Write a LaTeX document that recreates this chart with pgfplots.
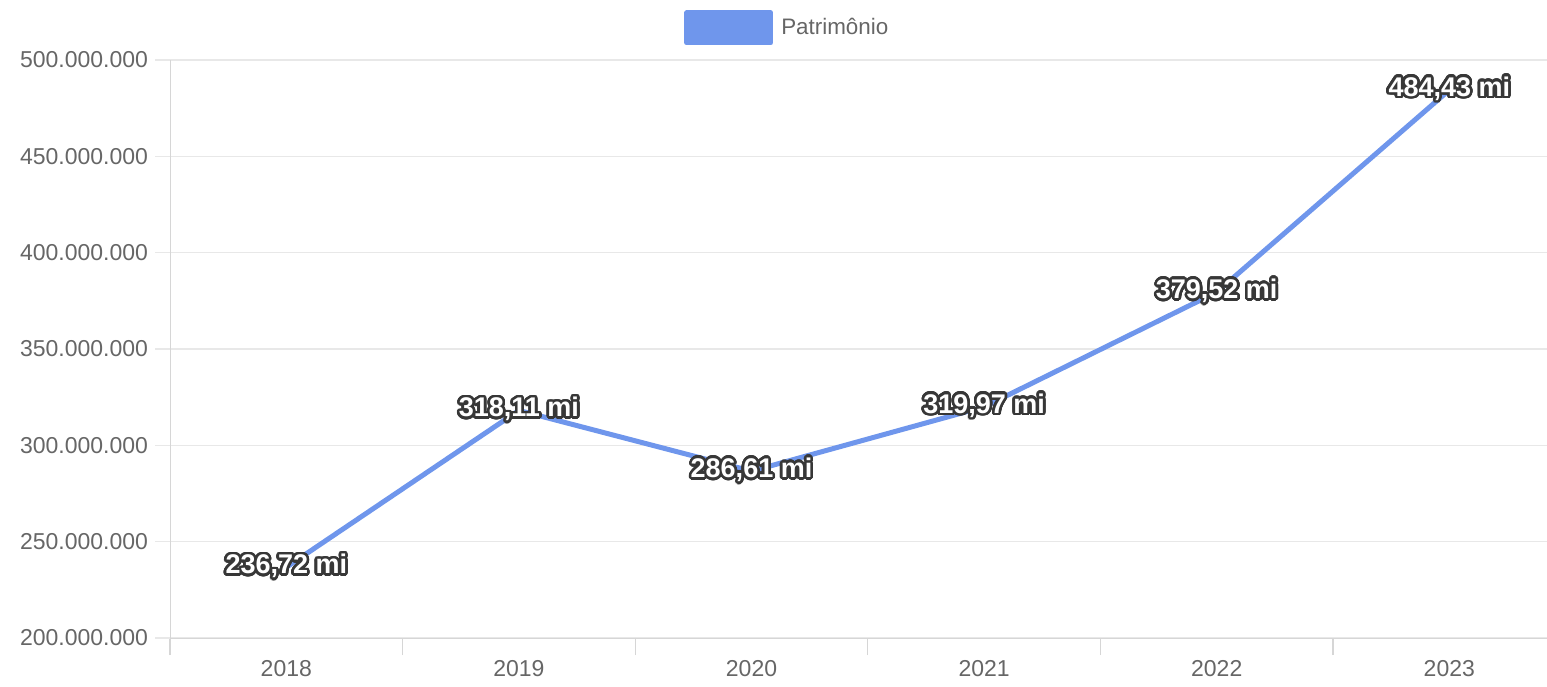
\documentclass[border=0pt]{standalone}
\usepackage{fontspec}
\setmainfont{Liberation Sans}
\usepackage{pgfplots}
\pgfplotsset{compat=1.18}
\usepackage{pgfplotstable}
\usepackage{contour}
\contourlength{1.3pt}
\contournumber{32}
\definecolor{lineblue}{RGB}{111,150,236}
\definecolor{ticktext}{RGB}{102,102,102}
\definecolor{gridc}{RGB}{232,232,232}
\definecolor{axisc}{RGB}{214,214,214}
\definecolor{outl}{RGB}{55,55,55}

\pgfplotstableread{
x y m
0 236720000 236.72
1 318110000 318.11
2 286610000 286.61
3 319970000 319.97
4 379520000 379.52
5 484430000 484.43
}\patr

\begin{document}
\begin{tikzpicture}
\begin{axis}[
  name=ax,
  scale only axis,
  width=688.5pt, height=289pt,
  xmin=-0.5, xmax=5.42,
  ymin=200000000, ymax=500000000,
  ytick={200000000,250000000,300000000,350000000,400000000,450000000,500000000},
  scaled y ticks=false,
  xtick={0,1,2,3,4,5},
  xticklabels={2018,2019,2020,2021,2022,2023},
  minor xtick={-0.5,0.5,1.5,2.5,3.5,4.5},
  axis lines*=left,
  axis line style={axisc,-},
  tick align=outside,
  major tick length=7.5pt,
  minor tick length=8.5pt,
  major x tick style={draw=none},
  minor x tick style={axisc, line width=0.6pt},
  y tick style={gridc, line width=0.6pt},
  ymajorgrids,
  grid style={gridc, line width=0.6pt},
  yticklabel style={/pgf/number format/.cd, fixed, precision=0, 1000 sep={.}, assume math mode=true},
  ticklabel style={font=\fontsize{11.5}{13}\selectfont, text=ticktext},
  xticklabel style={yshift=0pt},
  legend style={at={(0.449,1.0554)}, anchor=center, draw=none, fill=none, inner sep=0pt,
    font=\fontsize{11.2}{13}\selectfont, text=ticktext,
    /tikz/every odd column/.append style={column sep=2pt}},
  legend image code/.code={\fill[lineblue] (0pt,-7.5pt) rectangle (42pt,7.5pt);},
  clip=false,
]
\addplot[draw=none, no markers, forget plot,
  point meta=explicit,
  nodes near coords={\contour{outl}{\pgfmathprintnumber[fixed,fixed zerofill,precision=2,use comma,assume math mode=true]{\pgfplotspointmeta}~mi}},
  nodes near coords align=center,
  every node near coord/.append style={anchor=center, text=white, font=\bfseries\fontsize{13.5}{15}\selectfont}]
  table[x=x,y=y,meta=m]{\patr};
\addplot[lineblue, line width=2.5pt, no markers, line join=round] table[x=x,y=y]{\patr};
\addlegendentry{Patrimônio}
\end{axis}
\pgfresetboundingbox
\path[use as bounding box] ([xshift=-85pt,yshift=-24pt]ax.south west) rectangle ([yshift=30pt]ax.north east);
\end{tikzpicture}
\end{document}
